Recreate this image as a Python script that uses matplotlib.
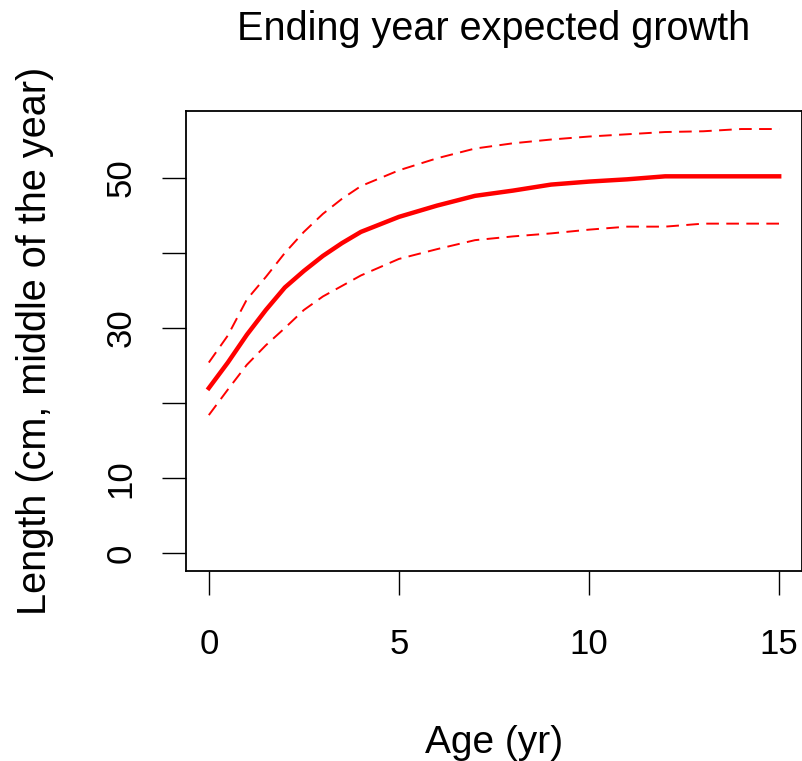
import matplotlib
matplotlib.use('Agg')
import matplotlib.pyplot as plt

# ages and growth curve
age = [0, 0.5, 1, 1.5, 2, 2.5, 3, 3.5, 4, 5, 6, 7, 8, 9, 10, 11, 12, 13, 14, 15]
length_mid = [22.0, 25.4, 29.1, 32.4, 35.4, 37.6, 39.6, 41.3, 42.8, 44.8, 46.3, 47.6, 48.3, 49.1,
              49.5, 49.8, 50.2, 50.2, 50.2, 50.2]
length_hi = [25.4, 29.0, 33.8, 36.8, 40.0, 42.8, 45.2, 47.2, 48.9, 51.0, 52.6, 53.9, 54.6, 55.1,
             55.5, 55.8, 56.1, 56.2, 56.5, 56.5]
length_lo = [18.4, 21.8, 25.1, 27.7, 30.0, 32.4, 34.2, 35.6, 37.0, 39.2, 40.5, 41.7, 42.2, 42.6,
             43.1, 43.5, 43.5, 43.9, 43.9, 43.9]

xticks = [0, 5, 10, 15]
yticks = [0, 10, 20, 30, 40, 50]
ytick_labels = ['0', '10', '', '30', '', '50']

plt.rcParams['font.family'] = ['Liberation Sans', 'DejaVu Sans']

W, H = 802, 761
fig = plt.figure(figsize=(W/100, H/100), dpi=100)
ax = fig.add_axes([186/W, 1-571/H, 616/W, 460/H])

ax.plot(age, length_mid, color='red', lw=3.2, solid_joinstyle='round')
ax.plot(age, length_hi, color='red', lw=1.4, dashes=(6.5, 3.8))
ax.plot(age, length_lo, color='red', lw=1.4, dashes=(6.5, 3.8))

ax.set_xlim(-0.6, 15.6)
ax.set_ylim(-2.36, 58.9)
ax.set_xticks(xticks)
ax.set_yticks(yticks)
ax.set_yticklabels(ytick_labels, rotation=90, va='center')

ax.tick_params(axis='both', length=17, width=1, labelsize=25, color='black')
ax.tick_params(axis='x', pad=24)
ax.tick_params(axis='y', pad=18)
for s in ax.spines.values():
    s.set_linewidth(1.3)

ax.set_xlabel('Age (yr)', fontsize=28, labelpad=46)
ax.set_ylabel('Length (cm, middle of the year)', fontsize=28.5, labelpad=36)
ax.set_title('Ending year expected growth', fontsize=28.5, pad=51)

fig.savefig('out.png', dpi=100)
